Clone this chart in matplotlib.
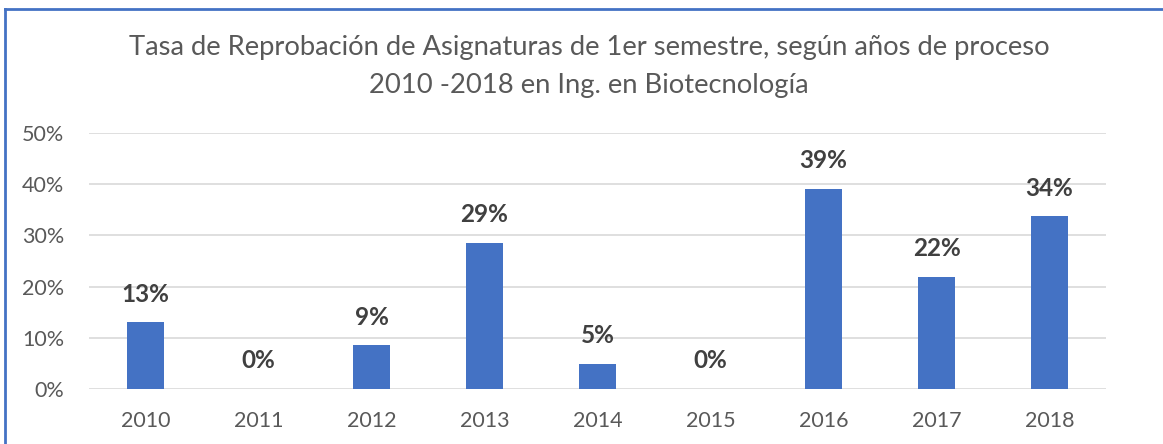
import matplotlib
matplotlib.use("Agg")
import matplotlib.pyplot as plt
from matplotlib.lines import Line2D
from matplotlib.ticker import FuncFormatter

years = ["2010", "2011", "2012", "2013", "2014", "2015", "2016", "2017", "2018"]
rates = [13.0, 0.0, 8.5, 28.5, 4.9, 0.0, 39.1, 21.9, 33.7]
labels = ["13%", "0%", "9%", "29%", "5%", "0%", "39%", "22%", "34%"]

plt.rcParams['font.family'] = ['Lato', 'DejaVu Sans']

fig = plt.figure(figsize=(11.63, 4.44), dpi=100)
W, H = 1163, 444
ax = fig.add_axes([89 / W, 1 - 389 / H, (1106 - 89) / W, (389 - 133) / H])

x = range(len(years))
bars = ax.bar(x, rates, width=0.33, color="#4472C4", zorder=3)
ax.set_xlim(-0.5, len(years) - 0.5)
ax.set_ylim(0, 50)
ax.set_yticks([0, 10, 20, 30, 40, 50])
ax.yaxis.set_major_formatter(FuncFormatter(lambda v, p: f"{int(v)}%"))
ax.set_xticks(list(x))
ax.set_xticklabels(years)
ax.grid(axis="y", color="#D9D9D9", linewidth=1.2, zorder=0)
for s in ax.spines.values():
    s.set_visible(False)
ax.tick_params(axis="both", length=0, labelsize=15.5, labelcolor="#595959")
ax.tick_params(axis="x", pad=16)
ax.tick_params(axis="y", pad=18)

for xi, v, lab in zip(x, rates, labels):
    ax.annotate(lab, (xi, v), xytext=(0, 12), textcoords="offset points",
                ha="center", va="bottom", fontsize=17.5, fontweight="bold", color="#404040")

cx = 589 / W
fig.text(cx, 1 - 47 / H, "Tasa de Reprobación de Asignaturas de 1er semestre, según años de proceso",
         ha="center", va="center", fontsize=19.7, color="#595959")
fig.text(cx, 1 - 86 / H, "2010 -2018 en Ing. en Biotecnología",
         ha="center", va="center", fontsize=19.7, color="#595959")

fig.add_artist(Line2D([5 / W, 5 / W], [0, 1 - 9 / H], transform=fig.transFigure, color="#4472C4", linewidth=2))
fig.add_artist(Line2D([5 / W, 1], [1 - 9 / H, 1 - 9 / H], transform=fig.transFigure, color="#4472C4", linewidth=2))

fig.savefig("out.png", dpi=100)
